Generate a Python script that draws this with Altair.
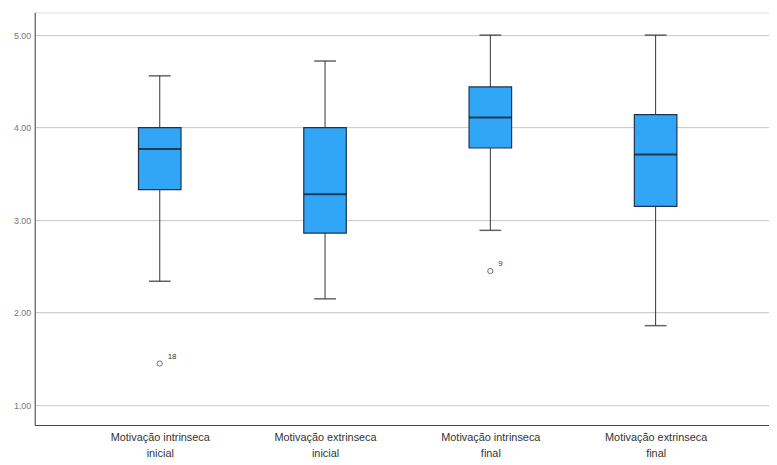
import altair as alt
import pandas as pd

positions = [1, 2, 3, 4]
label_line1 = ["Motivação intrinseca", "Motivação extrinseca", "Motivação intrinseca", "Motivação extrinseca"]
label_line2 = ["inicial", "inicial", "final", "final"]
lower_whisker = [2.34, 2.15, 2.89, 1.86]
q1 = [3.33, 2.86, 3.78, 3.15]
median = [3.77, 3.28, 4.11, 3.71]
q3 = [4.00, 4.00, 4.44, 4.14]
upper_whisker = [4.56, 4.72, 5.00, 5.00]

outlier_pos = [1, 3]
outlier_val = [1.45, 2.45]
outlier_case = ["18", "9"]

y_ticks = [1, 2, 3, 4, 5]

boxes = pd.DataFrame({
    "pos": positions, "lo": lower_whisker, "q1": q1, "med": median,
    "q3": q3, "hi": upper_whisker,
})
outs = pd.DataFrame({"pos": outlier_pos, "val": outlier_val, "case": outlier_case})

label_expr = " : ".join(
    f"datum.value == {p} ? ['{a}', '{b}']" for p, a, b in zip(positions, label_line1, label_line2)
) + " : ''"

xscale = alt.Scale(domain=[0.2735, 4.656], nice=False, zero=False)
yscale = alt.Scale(domain=[0.786, 5.246], nice=False, zero=False)

x_axis = alt.Axis(
    values=positions, labelExpr=label_expr, title=None, grid=False, ticks=False,
    domain=True, domainColor="#444444", domainWidth=1,
    labelFont="Liberation Sans", labelFontSize=11, labelColor="#333333",
    labelPadding=7, labelLineHeight=16, labelAngle=0, labelFlush=False, labelOverlap=False,
)
y_axis = alt.Axis(
    values=y_ticks, format=".2f", title=None, grid=True, gridColor="#c4c4c4",
    ticks=False, domain=True, domainColor="#444444",
    labelFont="Liberation Sans", labelFontSize=9, labelColor="#777777", labelPadding=4,
)

base = alt.Chart(boxes)

x_enc = alt.X("pos:Q", scale=xscale, axis=x_axis)

whisk = base.mark_rule(color="#333333", strokeWidth=1).encode(
    x=x_enc,
    y=alt.Y("lo:Q", scale=yscale, axis=y_axis),
    y2="hi:Q",
)
caps_lo = base.mark_tick(orient="horizontal", size=22, thickness=1.5, color="#222222").encode(
    x=alt.X("pos:Q", scale=xscale), y=alt.Y("lo:Q", scale=yscale)
)
caps_hi = base.mark_tick(orient="horizontal", size=22, thickness=1.5, color="#222222").encode(
    x=alt.X("pos:Q", scale=xscale), y=alt.Y("hi:Q", scale=yscale)
)
box = base.mark_bar(size=43, color="#31a6f7", stroke="#1c3350", strokeWidth=1.2).encode(
    x=alt.X("pos:Q", scale=xscale), y=alt.Y("q1:Q", scale=yscale), y2="q3:Q"
)
med = base.mark_tick(orient="horizontal", size=43, thickness=2, color="#111111").encode(
    x=alt.X("pos:Q", scale=xscale), y=alt.Y("med:Q", scale=yscale)
)
pts = alt.Chart(outs).mark_point(shape="circle", filled=False, size=28, color="#333333", strokeWidth=1).encode(
    x=alt.X("pos:Q", scale=xscale), y=alt.Y("val:Q", scale=yscale)
)
txt = alt.Chart(outs).mark_text(dx=8, dy=-7, fontSize=8, color="#333333", font="Liberation Sans", align="left").encode(
    x=alt.X("pos:Q", scale=xscale), y=alt.Y("val:Q", scale=yscale), text="case:N"
)

chart = alt.layer(whisk, caps_lo, caps_hi, box, med, pts, txt).properties(
    width=742, height=417,
    autosize=alt.AutoSizeParams(type="none"),
    padding={"left": 27, "top": 2, "right": 0, "bottom": 38},
).configure_view(stroke=None).configure(background="white")

chart.save("out.html", embed_options={"renderer": "svg", "actions": False})
